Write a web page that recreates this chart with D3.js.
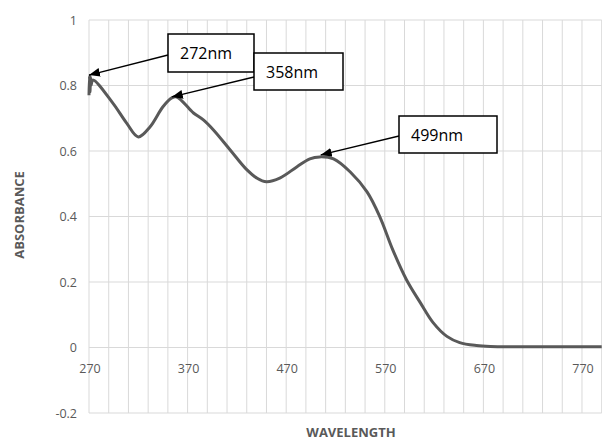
<!DOCTYPE html>
<html>
  <head>
    <title>Absorbance</title>
    <script src="https://d3js.org/d3.v7.min.js"></script>
    <style>
      body { margin: 0; background: white; }
      .tick-label { font-family: "Open Sans", sans-serif; font-size: 12.5px; fill: #595959; }
      .axis-title { font-family: "Open Sans", sans-serif; font-size: 13px; font-weight: bold; fill: #595959; }
      .note { font-family: "Open Sans", sans-serif; font-size: 16px; fill: #000; }
    </style>
  </head>
  <body>
    <script>
      // spectrum
      let wavelength = [270, 270.5, 271, 271.5, 272, 274, 294, 308, 320, 332, 345, 354, 359, 372, 376, 386, 396,
                        413, 430, 440, 450, 464, 481, 494, 504, 518, 535, 552, 565, 578, 592, 606, 619, 633,
                        646, 663, 677, 700, 750, 790];
      let absorbance = [0.77, 0.83, 0.78, 0.825, 0.80, 0.817, 0.747, 0.686, 0.643, 0.674, 0.735, 0.762, 0.765, 0.728,
                        0.716, 0.695, 0.665, 0.604, 0.543, 0.518, 0.506, 0.518, 0.552, 0.576, 0.582, 0.576, 0.536,
                        0.475, 0.399, 0.299, 0.207, 0.137, 0.076, 0.034, 0.015, 0.006, 0.003, 0.002, 0.002, 0.002];

      let xTicks = [270, 370, 470, 570, 670, 770];
      let yTicks = [-0.2, 0, 0.2, 0.4, 0.6, 0.8, 1];

      // annotations: label, where the arrow points
      let peakLabels = ["272nm", "358nm", "499nm"];
      let peakWl = [270, 354, 505];
      let peakAbs = [0.832, 0.765, 0.588];

      let width = 602, height = 441;
      let svg = d3.select("body").append("svg")
                  .attr("width", width).attr("height", height);

      let x = d3.scaleLinear().domain([270, 790]).range([89, 601.7]);
      let y = d3.scaleLinear().domain([-0.2, 1]).range([413, 20]);

      // grid
      let vgrid = d3.range(270, 791, 20);
      svg.append("g").selectAll("line").data(vgrid).enter().append("line")
         .attr("x1", d => x(d)).attr("x2", d => x(d))
         .attr("y1", y(1)).attr("y2", y(-0.2))
         .attr("stroke", "#d9d9d9").attr("stroke-width", 1);
      svg.append("g").selectAll("line").data(yTicks).enter().append("line")
         .attr("x1", x(270)).attr("x2", x(790))
         .attr("y1", d => y(d)).attr("y2", d => y(d))
         .attr("stroke", "#d9d9d9").attr("stroke-width", 1);

      // tick labels
      svg.append("g").selectAll("text").data(yTicks).enter().append("text")
         .attr("class", "tick-label")
         .attr("x", 77).attr("y", d => y(d) + 4.5)
         .attr("text-anchor", "end")
         .text(d => d);
      svg.append("g").selectAll("text").data(xTicks).enter().append("text")
         .attr("class", "tick-label")
         .attr("x", d => x(d) + 1).attr("y", y(0) + 25)
         .attr("text-anchor", "middle")
         .text(d => d);

      // axis titles
      svg.append("text").attr("class", "axis-title")
         .attr("transform", "translate(24,215) rotate(-90)")
         .attr("text-anchor", "middle").text("ABSORBANCE");
      svg.append("text").attr("class", "axis-title")
         .attr("x", 351).attr("y", 437)
         .attr("text-anchor", "middle").text("WAVELENGTH");

      // curve
      let pts = wavelength.map((w, i) => [w, absorbance[i]]);
      let line = d3.line().x(d => x(d[0])).y(d => y(d[1])).curve(d3.curveCatmullRom.alpha(0.5));
      svg.append("path").datum(pts)
         .attr("d", line)
         .attr("fill", "none")
         .attr("stroke", "#595959")
         .attr("stroke-width", 3)
         .attr("stroke-linejoin", "round");

      // arrowhead
      svg.append("defs").append("marker")
         .attr("id", "head").attr("markerUnits", "userSpaceOnUse")
         .attr("viewBox", "0 0 10 8").attr("refX", 10).attr("refY", 4)
         .attr("markerWidth", 11).attr("markerHeight", 9)
         .attr("orient", "auto")
         .append("path").attr("d", "M0,0 L10,4 L0,8 Z").attr("fill", "#000");

      // callout boxes (layout)
      let boxes = [{x: 168, y: 34, w: 86, h: 38, ay: 55},
                   {x: 254, y: 53, w: 89, h: 37, ay: 77},
                   {x: 399, y: 116, w: 98, h: 37, ay: 136}];

      let notes = svg.append("g");
      peakLabels.forEach(function(lbl, i) {
        let b = boxes[i];
        notes.append("line")
             .attr("x1", b.x).attr("y1", b.ay)
             .attr("x2", x(peakWl[i])).attr("y2", y(peakAbs[i]))
             .attr("stroke", "#000").attr("stroke-width", 1.3)
             .attr("marker-end", "url(#head)");
      });
      peakLabels.forEach(function(lbl, i) {
        let b = boxes[i];
        notes.append("rect")
             .attr("x", b.x).attr("y", b.y).attr("width", b.w).attr("height", b.h)
             .attr("fill", "white").attr("stroke", "#000").attr("stroke-width", 1.5);
        notes.append("text").attr("class", "note")
             .attr("x", b.x + 12).attr("y", b.y + b.h / 2 + 6)
             .text(lbl);
      });
    </script>
  </body>
</html>
